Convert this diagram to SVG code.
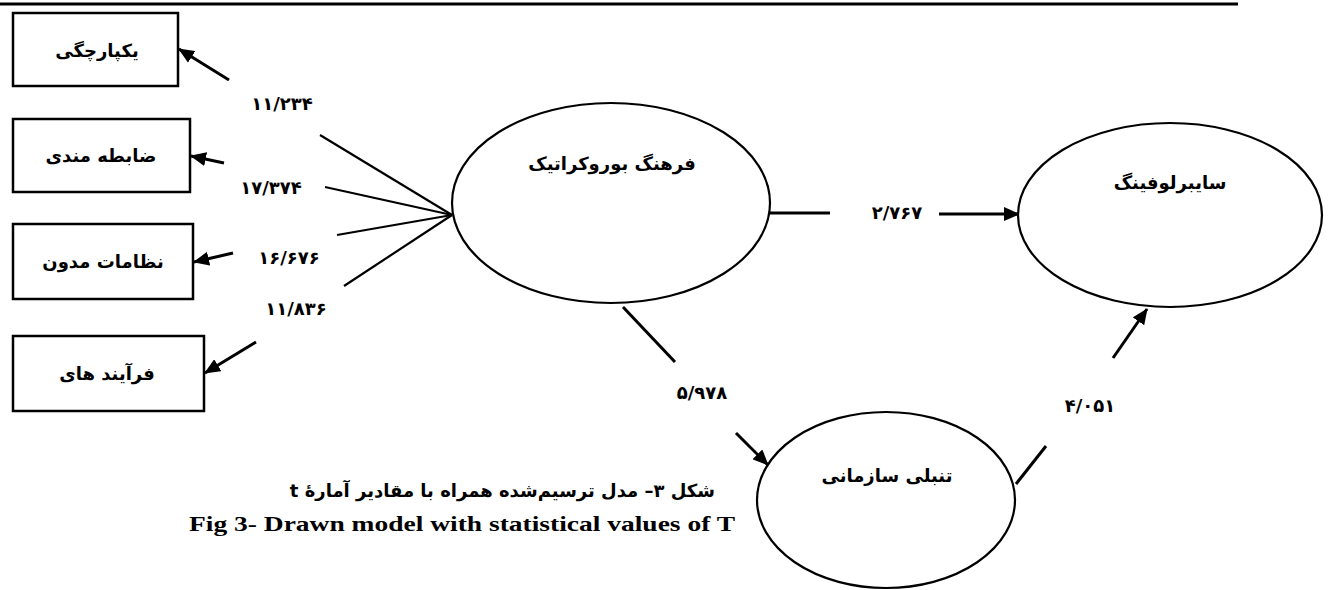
<svg xmlns="http://www.w3.org/2000/svg" width="1329" height="590" viewBox="0 0 1329 590">
<style>
.box{fill:#fff;stroke:#000;stroke-width:2.5}
.ell{fill:#fff;stroke:#000;stroke-width:2.2}
.fa{font-family:"DejaVu Sans",sans-serif;font-weight:bold;fill:#000;text-anchor:middle;dominant-baseline:central}
.lbl{font-size:18px}
.num{font-size:18px}
.ln{stroke:#000;stroke-width:2.2;fill:none}
.ar{stroke:#000;stroke-width:3;fill:none;marker-end:url(#ah)}
.thick{stroke:#000;stroke-width:3;fill:none}
</style>
<defs>
<marker id="ah" markerUnits="userSpaceOnUse" markerWidth="16" markerHeight="14" refX="15" refY="7" orient="auto" viewBox="0 0 16 14">
<path d="M0,0 L16,7 L0,14 z" fill="#000"/>
</marker>
</defs>
<line x1="0" y1="4" x2="1238" y2="4" stroke="#000" stroke-width="3"/>
<g id="connectors">
<line class="ln" x1="320" y1="135" x2="452" y2="215"/>
<line class="ln" x1="325" y1="187" x2="452" y2="215"/>
<line class="ln" x1="337" y1="235" x2="452" y2="215"/>
<line class="ln" x1="344" y1="286" x2="452" y2="215"/>
<line class="ar" x1="229" y1="80" x2="179" y2="49"/>
<line class="ar" x1="224" y1="163" x2="191" y2="156"/>
<line class="ar" x1="233" y1="253" x2="194" y2="262"/>
<line class="ar" x1="256" y1="342" x2="205" y2="373"/>
<line class="thick" x1="768" y1="213" x2="830" y2="213"/>
<line class="ar" x1="939" y1="214" x2="1019" y2="214"/>
<line class="thick" x1="623" y1="307" x2="675" y2="362"/>
<line class="ar" x1="736" y1="433" x2="768" y2="465"/>
<line class="thick" x1="1016" y1="484" x2="1046" y2="446"/>
<line class="ar" x1="1113" y1="358" x2="1147" y2="309"/>
<text class="fa num" x="282" y="103">۱۱/۲۳۴</text>
<text class="fa num" x="271" y="187">۱۷/۳۷۴</text>
<text class="fa num" x="289" y="257">۱۶/۶۷۶</text>
<text class="fa num" x="296" y="308">۱۱/۸۳۶</text>
<text class="fa num" x="897" y="212">۲/۷۶۷</text>
<text class="fa num" x="702" y="392">۵/۹۷۸</text>
<text class="fa num" x="1090" y="405">۴/۰۵۱</text>
</g>
<g id="n1"><rect class="box" x="13" y="13" width="165" height="73"/><text class="fa lbl" x="97" y="50">یکپارچگی</text></g>
<g id="n2"><rect class="box" x="13" y="119" width="177" height="73"/><text class="fa lbl" x="101" y="155">ضابطه مندی</text></g>
<g id="n3"><rect class="box" x="13" y="224" width="180" height="75"/><text class="fa lbl" x="103" y="261">نظامات مدون</text></g>
<g id="n4"><rect class="box" x="13" y="336" width="191" height="75"/><text class="fa lbl" x="107" y="373">فرآیند های</text></g>
<g id="e1"><ellipse class="ell" cx="611" cy="203" rx="159" ry="100"/><text class="fa lbl" x="612" y="163">فرهنگ بوروکراتیک</text></g>
<g id="e2"><ellipse class="ell" cx="1170" cy="215" rx="152" ry="92"/><text class="fa lbl" x="1170" y="182">سایبرلوفینگ</text></g>
<g id="e3"><ellipse class="ell" cx="886" cy="500" rx="129" ry="88"/><text class="fa lbl" x="887" y="475">تنبلی سازمانی</text></g>
<g id="caption">
<text x="715" y="497" direction="rtl" text-anchor="start" font-family="DejaVu Sans, sans-serif" font-weight="bold" font-size="18">شکل ۳– مدل ترسیم‌شده همراه با مقادیر آمارهٔ t</text>
<text x="189" y="531" font-family="Liberation Serif, serif" font-weight="bold" font-size="21" textLength="546" lengthAdjust="spacingAndGlyphs">Fig 3- Drawn model with statistical values of  T</text>
</g>
</svg>
